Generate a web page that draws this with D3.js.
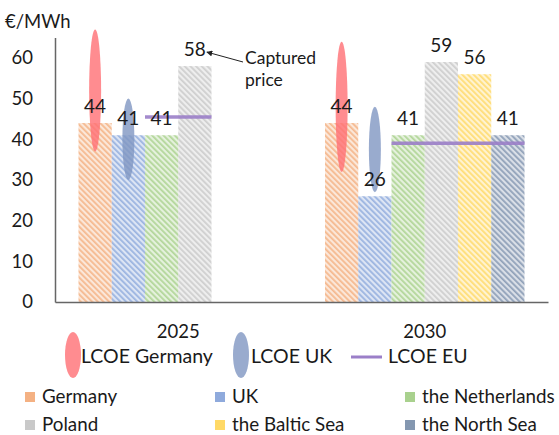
<!DOCTYPE html>
<html>
<head>
<meta charset="utf-8">
<script src="https://cdn.jsdelivr.net/npm/d3@7"></script>
<style>
body { margin: 0; background: #fff; }
svg text { font-family: Lato, "Open Sans", sans-serif; fill: #1a1a1a; }
</style>
</head>
<body>
<script>
var years = ["2025", "2030"];
var seriesNames = ["Germany", "UK", "the Netherlands", "Poland", "the Baltic Sea", "the North Sea"];
var seriesColors = ["#f4b183", "#8faadc", "#a9d18e", "#c9c9c9", "#ffd966", "#8497b0"];
// values per series, one per year (null = no bar)
var germany = [44, 44];
var uk = [41, 26];
var netherlands = [41, 41];
var poland = [58, 59];
var balticSea = [null, 56];
var northSea = [null, 41];
var lcoeGermanyLow = [37, 32];
var lcoeGermanyHigh = [67, 64];
var lcoeUKLow = [30, 27];
var lcoeUKHigh = [50, 48];
var lcoeEU = [45.5, 39];
var yTicks = [0, 10, 20, 30, 40, 50, 60];

var values = [germany, uk, netherlands, poland, balticSea, northSea];

var svg = d3.select("body").append("svg").attr("width", 559).attr("height", 435);

var y = d3.scaleLinear().domain([0, 65]).range([302, 37.6]);
var x0 = d3.scaleBand().domain(years).range([55, 548]).padding(0);
var gap = 23.5;
var x1 = d3.scaleBand().domain(seriesNames).range([gap, x0.bandwidth() - gap]).padding(0);

// hatch patterns (wide downward diagonal)
var defs = svg.append("defs");
seriesNames.forEach(function(s, i) {
  var p = defs.append("pattern")
      .attr("id", "hatch" + i)
      .attr("patternUnits", "userSpaceOnUse")
      .attr("width", 4).attr("height", 4)
      .attr("patternTransform", "rotate(-45)");
  p.append("rect").attr("width", 4).attr("height", 4).attr("fill", seriesColors[i]).attr("opacity", 0.3);
  p.append("rect").attr("width", 1.8).attr("height", 4).attr("fill", seriesColors[i]).attr("opacity", 0.85);
});

// bars
var groups = svg.selectAll("g.year")
      .data(years)
      .enter().append("g")
                .attr("class", "year")
                .attr("transform", function(d){ return "translate(" + x0(d) + ",0)"; });

groups.selectAll("rect")
      .data(function(d, yi){ return seriesNames.map(function(s, si){ return {s: s, i: si, v: values[si][yi]}; }).filter(function(e){ return e.v != null; }); })
      .enter().append("rect")
                .attr("x", function(d){ return x1(d.s); })
                .attr("width", x1.bandwidth())
                .attr("y", function(d){ return y(d.v); })
                .attr("height", function(d){ return y(0) - y(d.v); })
                .attr("fill", function(d){ return "url(#hatch" + d.i + ")"; });

// LCOE EU lines (from the Netherlands bar to last bar present)
groups.append("line")
      .attr("x1", x1("the Netherlands"))
      .attr("x2", function(d, yi){
          var last = 0;
          values.forEach(function(v, si){ if (v[yi] != null) last = si; });
          return x1(seriesNames[last]) + x1.bandwidth();
      })
      .attr("y1", function(d, yi){ return y(lcoeEU[yi]); })
      .attr("y2", function(d, yi){ return y(lcoeEU[yi]); })
      .attr("stroke", "#9b7fc8").attr("stroke-width", 3.5).attr("opacity", 0.9);

// LCOE ellipses
groups.append("ellipse")
      .attr("cx", x1("Germany") + x1.bandwidth() / 2)
      .attr("cy", function(d, yi){ return y((lcoeGermanyLow[yi] + lcoeGermanyHigh[yi]) / 2); })
      .attr("rx", 6)
      .attr("ry", function(d, yi){ return (y(lcoeGermanyLow[yi]) - y(lcoeGermanyHigh[yi])) / 2; })
      .attr("fill", "#ff6f74").attr("opacity", 0.8);
groups.append("ellipse")
      .attr("cx", x1("UK") + x1.bandwidth() / 2)
      .attr("cy", function(d, yi){ return y((lcoeUKLow[yi] + lcoeUKHigh[yi]) / 2); })
      .attr("rx", 6)
      .attr("ry", function(d, yi){ return (y(lcoeUKLow[yi]) - y(lcoeUKHigh[yi])) / 2; })
      .attr("fill", "#7f96c2").attr("opacity", 0.8);

// data labels
groups.selectAll("text.lbl")
      .data(function(d, yi){ return seriesNames.map(function(s, si){ return {s: s, v: values[si][yi]}; }).filter(function(e){ return e.v != null; }); })
      .enter().append("text")
                .attr("class", "lbl")
                .attr("x", function(d){ return x1(d.s) + x1.bandwidth() / 2; })
                .attr("y", function(d){ return y(d.v) - 10; })
                .attr("text-anchor", "middle")
                .attr("font-size", 19)
                .text(function(d){ return d.v; });

// axes
var yAxis = svg.append("g").attr("transform", "translate(55,0)")
      .call(d3.axisLeft(y).tickValues(yTicks).tickSize(0).tickSizeOuter(0).tickPadding(22));
yAxis.select(".domain").attr("stroke", "#666").attr("stroke-width", 1.5);
yAxis.selectAll("text").attr("font-size", 18.5).attr("font-family", "Lato, sans-serif").attr("fill", "#1a1a1a");

var xAxis = svg.append("g").attr("transform", "translate(0," + y(0) + ")")
      .call(d3.axisBottom(x0).tickSize(0).tickSizeOuter(0).tickPadding(23));
xAxis.select(".domain").attr("stroke", "#666").attr("stroke-width", 1.5);
xAxis.selectAll("text").attr("font-size", 18.5).attr("font-family", "Lato, sans-serif").attr("fill", "#1a1a1a");

svg.append("text").attr("x", 5).attr("y", 28).attr("font-size", 18.5).text("€/MWh");

// captured price annotation
defs.append("marker").attr("id", "arrow").attr("viewBox", "0 0 10 10")
      .attr("refX", 9).attr("refY", 5).attr("markerWidth", 6).attr("markerHeight", 6)
      .attr("orient", "auto")
      .append("path").attr("d", "M0,0L10,5L0,10z").attr("fill", "#222");
var ax = x0("2025") + x1("Poland") + x1.bandwidth() / 2 + 12;
var ay = y(poland[0]) - 14;
svg.append("line").attr("x1", 243).attr("y1", 62).attr("x2", ax).attr("y2", ay)
      .attr("stroke", "#222").attr("stroke-width", 1).attr("marker-end", "url(#arrow)");
svg.append("text").attr("x", 245).attr("y", 64).attr("font-size", 17.5).text("Captured");
svg.append("text").attr("x", 245).attr("y", 86).attr("font-size", 17.5).text("price");

// legend row 1
var lg = svg.append("g");
lg.append("ellipse").attr("cx", 73).attr("cy", 355).attr("rx", 8).attr("ry", 23).attr("fill", "#ff6f74").attr("opacity", 0.8);
lg.append("text").attr("x", 81).attr("y", 363).attr("font-size", 19.5).text("LCOE Germany");
lg.append("ellipse").attr("cx", 241).attr("cy", 355).attr("rx", 8).attr("ry", 23).attr("fill", "#7f96c2").attr("opacity", 0.8);
lg.append("text").attr("x", 251).attr("y", 363).attr("font-size", 19.5).text("LCOE UK");
lg.append("line").attr("x1", 351).attr("x2", 382).attr("y1", 357).attr("y2", 357).attr("stroke", "#9b7fc8").attr("stroke-width", 3);
lg.append("text").attr("x", 388).attr("y", 363).attr("font-size", 19.5).text("LCOE EU");

// legend rows 2-3
var colX = [25, 215, 405];
var rowY = [397, 425];
var items = svg.selectAll("g.leg")
      .data(seriesNames)
      .enter().append("g")
                .attr("class", "leg")
                .attr("transform", function(d, i){ return "translate(" + colX[i % 3] + "," + rowY[Math.floor(i / 3)] + ")"; });
items.append("rect").attr("x", 0).attr("y", -5).attr("width", 10).attr("height", 10)
      .attr("fill", function(d, i){ return seriesColors[i]; });
items.append("text").attr("x", 17).attr("y", 6).attr("font-size", 18.8).text(function(d){ return d; });
</script>
</body>
</html>
